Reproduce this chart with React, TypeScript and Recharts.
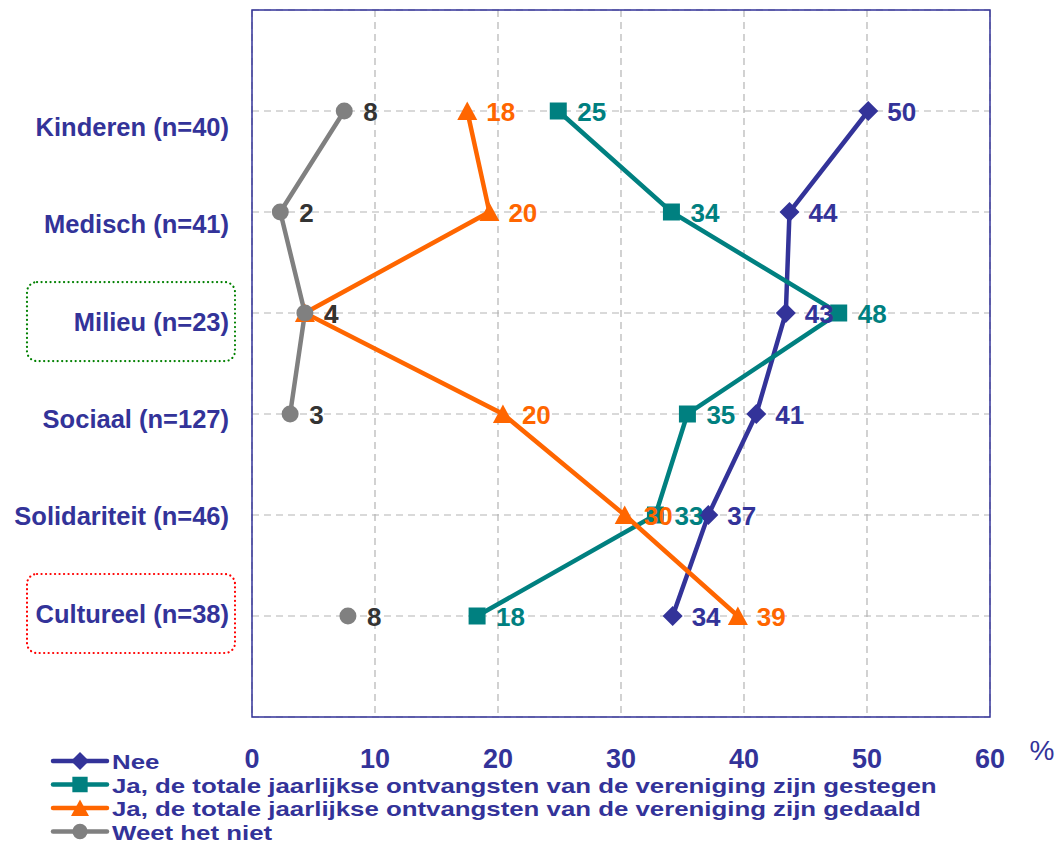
import React from 'react';
import { LineChart, Line, XAxis, YAxis, CartesianGrid, ReferenceArea, Legend } from 'recharts';

const categories = ['Kinderen (n=40)', 'Medisch (n=41)', 'Milieu (n=23)', 'Sociaal (n=127)', 'Solidariteit (n=46)', 'Cultureel (n=38)'];
const rowIndex = [1, 2, 3, 4, 5, 6];
const neeValues = [50.1, 43.7, 43.4, 41.0, 37.1, 34.2];
const neeLabels = [50, 44, 43, 41, 37, 34];
const gestegenValues = [24.9, 34.1, 47.7, 35.4, 32.8, 18.3];
const gestegenLabels = [25, 34, 48, 35, 33, 18];
const gedaaldValues = [17.5, 19.3, 4.3, 20.4, 30.3, 39.5];
const gedaaldLabels = [18, 20, 4, 20, 30, 39];
const weetValues: (number | null)[] = [7.5, 2.3, 4.3, 3.1, null, 7.8];
const weetLabels: (number | null)[] = [8, 2, 4, 3, null, 8];
const xTicks = [0, 10, 20, 30, 40, 50, 60];
const seriesNames = [
  'Nee',
  'Ja, de totale jaarlijkse ontvangsten van de vereniging zijn gestegen',
  'Ja, de totale jaarlijkse ontvangsten van de vereniging zijn gedaald',
  'Weet het niet',
];
const highlighted: Record<string, string> = { 'Milieu (n=23)': '#008000', 'Cultureel (n=38)': '#FF0000' };

const NAVY = '#333399';
const TEAL = '#008080';
const ORANGE = '#FF6600';
const GRAY = '#808080';
const FONT = '"Liberation Sans", Arial, sans-serif';

// split the "weet het niet" series into contiguous runs so the gap stays open
const weetSegmentOf: number[] = [];
{
  let seg = -1;
  let prevNull = true;
  weetValues.forEach((v, i) => {
    if (v != null && prevNull) seg += 1;
    prevNull = v == null;
    weetSegmentOf[i] = v == null ? -1 : seg;
  });
}
const weetSegmentCount = Math.max(...weetSegmentOf) + 1;

const data = categories.map((c, i) => {
  const row: Record<string, any> = {
    idx: rowIndex[i],
    name: c,
    nee: neeValues[i],
    gestegen: gestegenValues[i],
    gedaald: gedaaldValues[i],
  };
  for (let s = 0; s < weetSegmentCount; s++) {
    row[`weet${s}`] = weetSegmentOf[i] === s ? weetValues[i] : null;
  }
  return row;
});

type Shape = 'diamond' | 'square' | 'triangle' | 'circle';

function markerPath(shape: Shape, cx: number, cy: number, s = 1) {
  if (shape === 'diamond') {
    const r = 10 * s;
    return `M${cx},${cy - r}L${cx + r},${cy}L${cx},${cy + r}L${cx - r},${cy}Z`;
  }
  if (shape === 'square') {
    const r = 8.5 * s;
    return `M${cx - r},${cy - r}h${2 * r}v${2 * r}h${-2 * r}Z`;
  }
  if (shape === 'triangle') {
    return `M${cx},${cy - 9.5 * s}L${cx + 10 * s},${cy + 9 * s}L${cx - 10 * s},${cy + 9 * s}Z`;
  }
  const r = 8.5 * s;
  return `M${cx - r},${cy}a${r},${r} 0 1,0 ${2 * r},0a${r},${r} 0 1,0 ${-2 * r},0Z`;
}

const makeDot = (shape: Shape, color: string, tag: string) => (props: any) => {
  const { cx, cy, index, value } = props;
  const k = `d-${tag}-${index}`;
  if (cx == null || cy == null || isNaN(cx) || isNaN(cy) || value == null || (Array.isArray(value) && value[1] == null)) return <g key={k} />;
  return <path key={k} d={markerPath(shape, cx, cy)} fill={color} stroke="none" />;
};

const makeLabel = (
  values: (number | null)[],
  labels: (number | null)[],
  color: string,
  tag: string,
  include?: (i: number) => boolean
) => (props: any) => {
  const { x, y, index } = props;
  let v = props.value;
  if (Array.isArray(v)) v = v[1];
  if (x == null || y == null || v == null) return null;
  let i = index;
  if (values[i] !== v || (include && !include(i))) {
    i = values.findIndex((vv, j) => vv === v && (!include || include(j)));
  }
  if (i < 0 || labels[i] == null) return null;
  return (
    <text
      key={`l-${tag}-${i}`}
      x={x + 19}
      y={y + 1}
      dominantBaseline="central"
      textAnchor="start"
      fontFamily={FONT}
      fontWeight="bold"
      fontSize={26}
      fill={color}
    >
      {labels[i]}
    </text>
  );
};

const YTick = (props: any) => {
  const { y, payload } = props;
  const i = rowIndex.indexOf(payload.value);
  if (i < 0) return null;
  const cat = categories[i];
  const ty = y + 16 - 3.7 * i;
  const box = highlighted[cat];
  return (
    <g>
      {box && (
        <rect
          x={27}
          y={ty - 39.5}
          width={208}
          height={79}
          rx={10}
          ry={10}
          fill="none"
          stroke={box}
          strokeWidth={2.2}
          strokeDasharray="0.1 4.4"
          strokeLinecap="round"
        />
      )}
      <text
        x={229}
        y={ty}
        textAnchor="end"
        dominantBaseline="central"
        fontFamily={FONT}
        fontWeight="bold"
        fontSize={25.5}
        fill={NAVY}
      >
        {cat}
      </text>
    </g>
  );
};

const XTick = (props: any) => {
  const { x, payload } = props;
  return (
    <text
      x={x}
      y={759}
      textAnchor="middle"
      dominantBaseline="central"
      fontFamily={FONT}
      fontWeight="bold"
      fontSize={27}
      fill={NAVY}
    >
      {payload.value}
    </text>
  );
};

const legendItems: { shape: Shape; color: string }[] = [
  { shape: 'diamond', color: NAVY },
  { shape: 'square', color: TEAL },
  { shape: 'triangle', color: ORANGE },
  { shape: 'circle', color: GRAY },
];

const LegendContent = () => (
  <svg width={960} height={100} style={{ display: 'block' }}>
    {legendItems.map((it, i) => {
      const cy = 13 + i * 23.5;
      return (
        <g key={i}>
          <line x1={3} x2={57} y1={cy} y2={cy} stroke={it.color} strokeWidth={4.5} strokeLinecap="round" />
          <path d={markerPath(it.shape, 30, cy, 0.9)} fill={it.color} />
          <text
            transform={`translate(62, ${cy + 1}) scale(1.23, 1)`}
            dominantBaseline="central"
            fontFamily={FONT}
            fontWeight="bold"
            fontSize={21}
            fill={NAVY}
          >
            {seriesNames[i]}
          </text>
        </g>
      );
    })}
  </svg>
);

export default function App() {
  const weetLines = [];
  for (let s = 0; s < weetSegmentCount; s++) {
    weetLines.push(
      <Line
        key={`weet${s}`}
        dataKey={`weet${s}`}
        name={seriesNames[3]}
        stroke={GRAY}
        strokeWidth={4.5}
        dot={makeDot('circle', GRAY, `w${s}`)}
        activeDot={false}
        label={makeLabel(weetValues, weetLabels, '#333333', `w${s}`, (i) => weetSegmentOf[i] === s)}
        isAnimationActive={false}
        legendType="none"
      />
    );
  }
  return (
    <div style={{ position: 'absolute', left: 0, top: 0, width: 1056, height: 844, background: '#fff' }}>
      <LineChart
        width={1056}
        height={844}
        data={data}
        layout="vertical"
        margin={{ top: 10, right: 66, bottom: 67, left: 0 }}
      >
        <CartesianGrid stroke="#b4b4b4" strokeDasharray="7 5" strokeWidth={1.2} />
        <XAxis
          type="number"
          domain={[0, 60]}
          ticks={xTicks}
          height={60}
          axisLine={false}
          tickLine={false}
          tick={<XTick />}
          interval={0}
          label={(p: any) => {
            const vb = p.viewBox || {};
            return (
              <text
                x={(vb.x || 252) + (vb.width || 738) + 52}
                y={750}
                textAnchor="middle"
                dominantBaseline="central"
                fontFamily={FONT}
                fontSize={28}
                fill={NAVY}
              >
                %
              </text>
            );
          }}
        />
        <YAxis
          type="number"
          dataKey="idx"
          domain={[0, 7]}
          ticks={rowIndex}
          width={252}
          axisLine={false}
          tickLine={false}
          tick={<YTick />}
          interval={0}
        />
        <ReferenceArea x1={0} x2={60} y1={0} y2={7} fill="none" stroke={NAVY} strokeWidth={1.5} ifOverflow="visible" />
        <Legend
          layout="horizontal"
          verticalAlign="middle"
          align="center"
          wrapperStyle={{ position: 'absolute', top: 748, left: 50, width: 960, height: 100 }}
          content={() => <LegendContent />}
        />
        <Line
          dataKey="nee"
          name={seriesNames[0]}
          stroke={NAVY}
          strokeWidth={4.5}
          dot={makeDot('diamond', NAVY, 'n')}
          activeDot={false}
          label={makeLabel(neeValues, neeLabels, NAVY, 'n')}
          isAnimationActive={false}
        />
        <Line
          dataKey="gestegen"
          name={seriesNames[1]}
          stroke={TEAL}
          strokeWidth={4.5}
          dot={makeDot('square', TEAL, 'g')}
          activeDot={false}
          label={makeLabel(gestegenValues, gestegenLabels, TEAL, 'g')}
          isAnimationActive={false}
        />
        <Line
          dataKey="gedaald"
          name={seriesNames[2]}
          stroke={ORANGE}
          strokeWidth={4.5}
          dot={makeDot('triangle', ORANGE, 'o')}
          activeDot={false}
          label={makeLabel(gedaaldValues, gedaaldLabels, ORANGE, 'o')}
          isAnimationActive={false}
        />
        {weetLines}
      </LineChart>
    </div>
  );
}
